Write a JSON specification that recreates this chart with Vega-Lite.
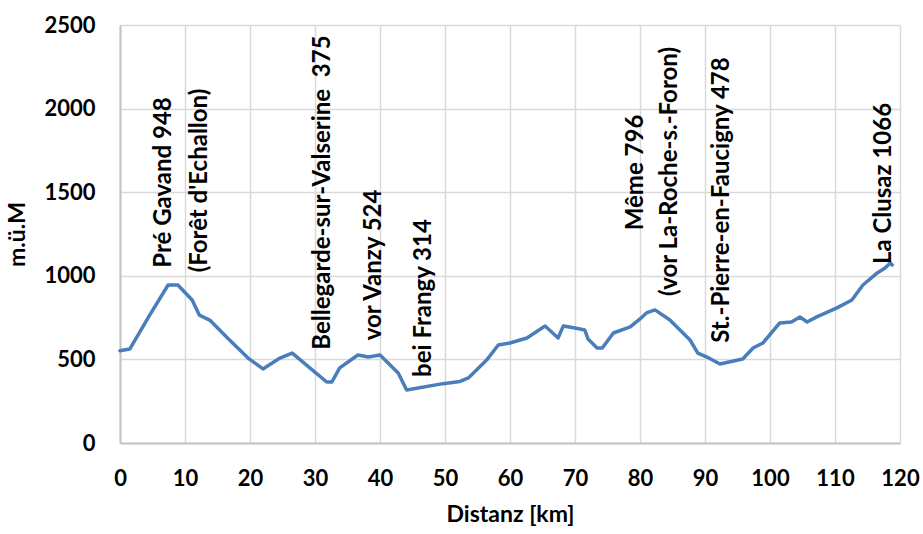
{
  "$schema": "https://vega.github.io/schema/vega-lite/v6.json",
  "autosize": {"type": "none"},
  "padding": {"left": 120, "top": 25, "right": 23, "bottom": 91},
  "width": 780,
  "height": 418,
  "background": "white",
  "config": {
    "view": {"stroke": null},
    "font": "Lato",
    "axis": {
      "labelFont": "Lato",
      "labelFontWeight": "bold",
      "labelFontSize": 22,
      "labelColor": "#000000",
      "labelFlush": false,
      "labelOverlap": false,
      "titleFont": "Lato",
      "titleFontWeight": "bold",
      "titleFontSize": 23,
      "titleColor": "#000000",
      "gridColor": "#d9d9d9",
      "gridWidth": 1.5,
      "domainColor": "#c4c4c4",
      "domainWidth": 2,
      "ticks": false
    }
  },
  "datasets": {
    "profile": [
      {"km": 0, "elev": 552},
      {"km": 1.5, "elev": 562},
      {"km": 4.5, "elev": 760},
      {"km": 7.4, "elev": 945},
      {"km": 8.9, "elev": 945},
      {"km": 11.1, "elev": 855},
      {"km": 12.2, "elev": 765},
      {"km": 13.8, "elev": 735},
      {"km": 16.5, "elev": 630},
      {"km": 19.7, "elev": 508},
      {"km": 22.0, "elev": 443},
      {"km": 24.6, "elev": 508},
      {"km": 26.5, "elev": 538},
      {"km": 29.2, "elev": 449},
      {"km": 31.8, "elev": 365},
      {"km": 32.6, "elev": 365},
      {"km": 33.8, "elev": 449},
      {"km": 36.6, "elev": 526},
      {"km": 38.2, "elev": 514},
      {"km": 40.0, "elev": 526},
      {"km": 42.8, "elev": 419},
      {"km": 44.1, "elev": 317},
      {"km": 49.7, "elev": 355},
      {"km": 52.3, "elev": 368},
      {"km": 53.6, "elev": 389},
      {"km": 56.4, "elev": 496},
      {"km": 58.2, "elev": 586},
      {"km": 60.0, "elev": 598},
      {"km": 62.6, "elev": 628},
      {"km": 65.4, "elev": 700},
      {"km": 67.4, "elev": 628},
      {"km": 68.2, "elev": 700},
      {"km": 70.0, "elev": 688},
      {"km": 71.5, "elev": 676},
      {"km": 72.0, "elev": 622},
      {"km": 73.4, "elev": 568},
      {"km": 74.2, "elev": 568},
      {"km": 75.9, "elev": 658},
      {"km": 78.5, "elev": 694},
      {"km": 80.0, "elev": 742},
      {"km": 81.0, "elev": 778},
      {"km": 82.3, "elev": 796},
      {"km": 84.6, "elev": 736},
      {"km": 87.7, "elev": 616},
      {"km": 88.9, "elev": 538},
      {"km": 90.3, "elev": 514},
      {"km": 92.3, "elev": 472},
      {"km": 95.8, "elev": 502},
      {"km": 97.4, "elev": 568},
      {"km": 98.9, "elev": 598},
      {"km": 101.5, "elev": 718},
      {"km": 103.3, "elev": 724},
      {"km": 104.6, "elev": 754},
      {"km": 105.7, "elev": 724},
      {"km": 107.2, "elev": 754},
      {"km": 110.3, "elev": 808},
      {"km": 112.6, "elev": 855},
      {"km": 114.3, "elev": 945},
      {"km": 116.5, "elev": 1017},
      {"km": 117.7, "elev": 1047},
      {"km": 118.5, "elev": 1077},
      {"km": 118.8, "elev": 1065}
    ],
    "labels": [
      {"km": 6.8, "elev": 1558, "label": "Pré Gavand 948"},
      {"km": 12.3, "elev": 1570, "label": "(Forêt d'Echallon)"},
      {"km": 31.2, "elev": 1498, "label": "Bellegarde-sur-Valserine\u00a0 375"},
      {"km": 39.1, "elev": 1065, "label": "vor Vanzy 524"},
      {"km": 46.8, "elev": 867, "label": "bei Frangy 314"},
      {"km": 79.4, "elev": 1618, "label": "Même 796"},
      {"km": 84.6, "elev": 1624, "label": "(vor La-Roche-s.-Foron)"},
      {"km": 92.6, "elev": 1453, "label": "St.-Pierre-en-Faucigny 478"},
      {"km": 117.5, "elev": 1552, "label": "La Clusaz 1066"}
    ]
  },
  "encoding": {
    "x": {
      "field": "km", "type": "quantitative",
      "scale": {"domain": [0, 120], "nice": false, "zero": false},
      "axis": {"values": [0,10,20,30,40,50,60,70,80,90,100,110,120], "format": "d", "title": "Distanz [km]", "labelPadding": 25, "titlePadding": 14}
    },
    "y": {
      "field": "elev", "type": "quantitative",
      "scale": {"domain": [0, 2500], "nice": false},
      "axis": {"values": [0,500,1000,1500,2000,2500], "format": "d", "title": "m.ü.M", "labelPadding": 25, "titlePadding": 14}
    }
  },
  "layer": [
    {
      "data": {"name": "profile"},
      "mark": {"type": "line", "color": "#4a7ebb", "strokeWidth": 3.5, "strokeJoin": "round", "strokeCap": "round"}
    },
    {
      "data": {"name": "labels"},
      "mark": {"type": "text", "angle": 270, "align": "center", "baseline": "middle", "font": "Lato", "fontWeight": "bold", "fontSize": 24, "color": "#000000"},
      "encoding": {"text": {"field": "label"}}
    }
  ]
}
